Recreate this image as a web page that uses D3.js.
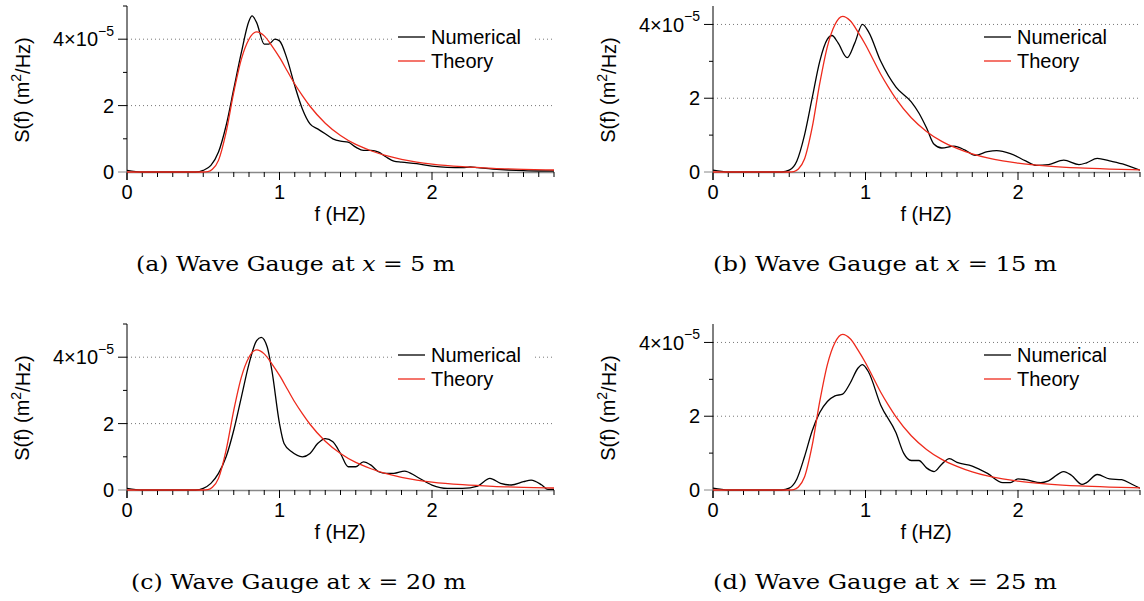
<!DOCTYPE html>
<html>
<head>
<meta charset="utf-8">
<script src="https://cdn.jsdelivr.net/npm/d3@7"></script>
<style>
  body { margin: 0; background: #fff; }
  svg { display: block; font-family: "Liberation Sans", Arial, sans-serif; }
</style>
</head>
<body>
<svg id="chart" width="1144" height="601"></svg>
<script>
// spectra in units of 1e-5 m^2/Hz
var theory = [[0,0],[0.5,0],[0.53,0.01],[0.56,0.08],[0.6,0.35],[0.65,1.2],[0.7,2.4],[0.75,3.4],[0.8,4.0],
  [0.85,4.22],[0.9,4.1],[0.95,3.8],[1.0,3.45],[1.05,3.05],[1.1,2.65],[1.15,2.3],[1.2,1.98],[1.3,1.47],
  [1.4,1.1],[1.5,0.83],[1.6,0.64],[1.7,0.49],[1.8,0.38],[1.9,0.3],[2.0,0.24],[2.2,0.16],[2.4,0.11],
  [2.6,0.08],[2.8,0.06]];

var numA = [[0,0.05],[0.1,0],[0.45,0],[0.5,0.05],[0.55,0.2],[0.6,0.6],[0.65,1.4],[0.7,2.5],[0.75,3.6],
  [0.8,4.55],[0.82,4.7],[0.85,4.5],[0.9,3.85],[0.93,3.85],[0.97,4.0],[1.0,3.95],[1.05,3.4],[1.1,2.6],
  [1.15,1.9],[1.2,1.45],[1.25,1.3],[1.3,1.15],[1.35,1.0],[1.4,0.93],[1.45,0.9],[1.5,0.75],[1.55,0.65],
  [1.6,0.65],[1.65,0.6],[1.7,0.45],[1.75,0.33],[1.8,0.3],[1.9,0.25],[2.0,0.18],[2.1,0.14],[2.2,0.13],
  [2.25,0.15],[2.3,0.13],[2.4,0.09],[2.5,0.06],[2.6,0.04],[2.7,0.03],[2.8,0.03]];

var numB = [[0,0.05],[0.1,0],[0.45,0],[0.5,0.05],[0.55,0.3],[0.6,1.0],[0.65,2.0],[0.7,3.0],[0.75,3.6],
  [0.78,3.7],[0.82,3.5],[0.88,3.1],[0.93,3.5],[0.98,4.0],[1.02,3.8],[1.1,3.0],[1.2,2.3],[1.3,1.9],
  [1.35,1.6],[1.4,1.2],[1.45,0.75],[1.5,0.65],[1.58,0.7],[1.65,0.6],[1.72,0.45],[1.8,0.55],[1.86,0.58],
  [1.95,0.5],[2.05,0.3],[2.12,0.18],[2.2,0.2],[2.3,0.32],[2.4,0.2],[2.45,0.25],[2.52,0.37],[2.6,0.3],
  [2.7,0.2],[2.8,0.05]];

var numC = [[0,0.05],[0.1,0],[0.45,0],[0.5,0.05],[0.55,0.2],[0.6,0.5],[0.65,1.0],[0.7,1.8],[0.75,2.8],
  [0.8,3.8],[0.85,4.5],[0.88,4.6],[0.92,4.3],[0.95,3.6],[1.0,2.0],[1.03,1.4],[1.08,1.15],[1.15,1.0],
  [1.2,1.1],[1.25,1.4],[1.3,1.55],[1.35,1.45],[1.4,1.1],[1.45,0.7],[1.5,0.7],[1.55,0.85],[1.6,0.75],
  [1.65,0.55],[1.7,0.5],[1.75,0.5],[1.82,0.57],[1.9,0.4],[2.0,0.15],[2.1,0.05],[2.2,0.05],[2.3,0.12],
  [2.38,0.35],[2.45,0.2],[2.52,0.15],[2.6,0.25],[2.65,0.3],[2.72,0.15],[2.76,0.02],[2.8,0.02]];

var numD = [[0,0.05],[0.1,0],[0.45,0],[0.5,0.05],[0.55,0.3],[0.6,0.9],[0.65,1.6],[0.7,2.1],[0.75,2.4],
  [0.8,2.55],[0.85,2.6],[0.9,2.9],[0.95,3.3],[0.98,3.4],[1.02,3.2],[1.1,2.3],[1.2,1.55],[1.25,1.0],
  [1.3,0.8],[1.35,0.8],[1.4,0.6],[1.45,0.5],[1.5,0.7],[1.55,0.85],[1.6,0.75],[1.7,0.65],[1.8,0.45],
  [1.9,0.2],[1.95,0.2],[2.0,0.3],[2.05,0.28],[2.15,0.2],[2.2,0.25],[2.3,0.5],[2.35,0.4],[2.42,0.15],
  [2.45,0.2],[2.52,0.42],[2.6,0.3],[2.68,0.28],[2.75,0.15],[2.8,0.05]];

var letters = ["a", "b", "c", "d"];
var gaugePos = ["5", "15", "20", "25"];
var yMax = [5, 4.5, 5, 4.5];
var xTicks = [0, 1, 2];
var yTicks = [0, 2, 4];
var seriesNames = ["Numerical", "Theory"];

var numerical = [numA, numB, numC, numD];

var W = 427, H = 166;
var origins = [[127, 6], [713, 6], [127, 324], [713, 324]];
var captionX = [136, 713, 131, 713];
var captionLen = [319, 344, 335, 344];
var colors = ["#000", "#ee2a1c"];
var fs = 20;

var svg = d3.select("#chart");

origins.forEach(function(o, i) {
  var g = svg.append("g").attr("transform", "translate(" + o[0] + "," + o[1] + ")");

  var x = d3.scaleLinear().domain([0, 2.8]).range([0, W]);
  var y = d3.scaleLinear().domain([0, yMax[i]]).range([H, 0]);

  // dotted grid at the labelled y ticks
  g.selectAll(".grid").data(yTicks.filter(function(d) { return d > 0; }))
    .enter().append("line")
    .attr("x1", 0).attr("x2", W)
    .attr("y1", function(d) { return y(d); }).attr("y2", function(d) { return y(d); })
    .attr("stroke", "#777").attr("stroke-width", 1).attr("stroke-dasharray", "1,3");

  // x axis: grey baseline, minor ticks every 0.1
  g.append("line").attr("x1", 0).attr("x2", W).attr("y1", H + 0.5).attr("y2", H + 0.5)
    .attr("stroke", "#888").attr("stroke-width", 1.6);
  var minor = d3.range(0, 2.81, 0.1);
  g.selectAll(".xmin").data(minor).enter().append("line")
    .attr("x1", function(d) { return x(d); }).attr("x2", function(d) { return x(d); })
    .attr("y1", H).attr("y2", function(d) { return Math.abs(d - Math.round(d)) < 1e-6 ? H + 8 : H + 5; })
    .attr("stroke", "#000").attr("stroke-width", 1);
  g.selectAll(".xlab").data(xTicks).enter().append("text")
    .attr("x", function(d) { return x(d); }).attr("y", H + 27)
    .attr("text-anchor", "middle").attr("font-size", fs).text(function(d) { return d; });

  // y axis
  g.append("line").attr("x1", 0).attr("x2", 0).attr("y1", 0).attr("y2", H + 8)
    .attr("stroke", "#000").attr("stroke-width", 1);
  var yminor = d3.range(0, yMax[i] + 0.01, 1);
  g.selectAll(".ymin").data(yminor).enter().append("line")
    .attr("y1", function(d) { return y(d); }).attr("y2", function(d) { return y(d); })
    .attr("x1", 0).attr("x2", function(d) { return d % 2 === 0 && d < 5 ? -9 : -4; })
    .attr("stroke", function(d) { return d === 0 ? "#888" : "#000"; }).attr("stroke-width", 1);
  var yl = g.selectAll(".ylab").data(yTicks).enter().append("text")
    .attr("x", -13).attr("y", function(d) { return y(d); }).attr("dy", "0.36em")
    .attr("text-anchor", "end").attr("font-size", fs);
  yl.each(function(d) {
    var t = d3.select(this);
    if (d === 4) {
      t.append("tspan").text("4×10");
      t.append("tspan").attr("font-size", 14).attr("dy", "-0.75em").text("−5");
    } else {
      t.text(d);
    }
  });

  // axis titles
  var yt = g.append("text").attr("transform", "translate(-105," + (H / 2 + 1) + ") rotate(-90)")
    .attr("text-anchor", "middle").attr("dy", "0.36em").attr("font-size", fs);
  yt.append("tspan").text("S(f) (m");
  yt.append("tspan").attr("font-size", 14).attr("dy", "-0.6em").text("2");
  yt.append("tspan").attr("dy", "0.45em").text("/Hz)");
  g.append("text").attr("x", 213).attr("y", H + 49).attr("text-anchor", "middle")
    .attr("font-size", fs).text("f (HZ)");

  // curves
  g.append("clipPath").attr("id", "clip" + i).append("rect")
    .attr("x", 0).attr("y", -2).attr("width", W).attr("height", H + 4);
  var line = d3.line()
    .x(function(d) { return x(d[0]); })
    .y(function(d) { return y(d[1]); })
    .curve(d3.curveMonotoneX);
  [numerical[i], theory].forEach(function(s, k) {
    g.append("path").datum(s).attr("d", line)
      .attr("clip-path", "url(#clip" + i + ")")
      .attr("fill", "none").attr("stroke", colors[k]).attr("stroke-width", 1.3);
  });

  // legend
  var lg = g.append("g").attr("transform", "translate(271,31)");
  lg.append("rect").attr("x", -6).attr("y", -12).attr("width", 140).attr("height", 48).attr("fill", "#fff");
  seriesNames.forEach(function(n, k) {
    lg.append("line").attr("x1", 0).attr("x2", 27).attr("y1", k * 24).attr("y2", k * 24)
      .attr("stroke", colors[k]).attr("stroke-width", 1.3);
    lg.append("text").attr("x", 33).attr("y", k * 24).attr("dy", "0.36em")
      .attr("font-size", fs).text(n);
  });

  // sub-caption
  var cap = svg.append("text").attr("x", captionX[i]).attr("y", o[1] + 265)
    .attr("font-size", 21).attr("textLength", captionLen[i]).attr("lengthAdjust", "spacingAndGlyphs")
    .attr("font-family", "'DejaVu Serif', 'Liberation Serif', serif");
  cap.append("tspan").text("(" + letters[i] + ") Wave Gauge at ");
  cap.append("tspan").attr("font-style", "italic").text("x");
  cap.append("tspan").text(" = " + gaugePos[i] + " m");
});
</script>
</body>
</html>
